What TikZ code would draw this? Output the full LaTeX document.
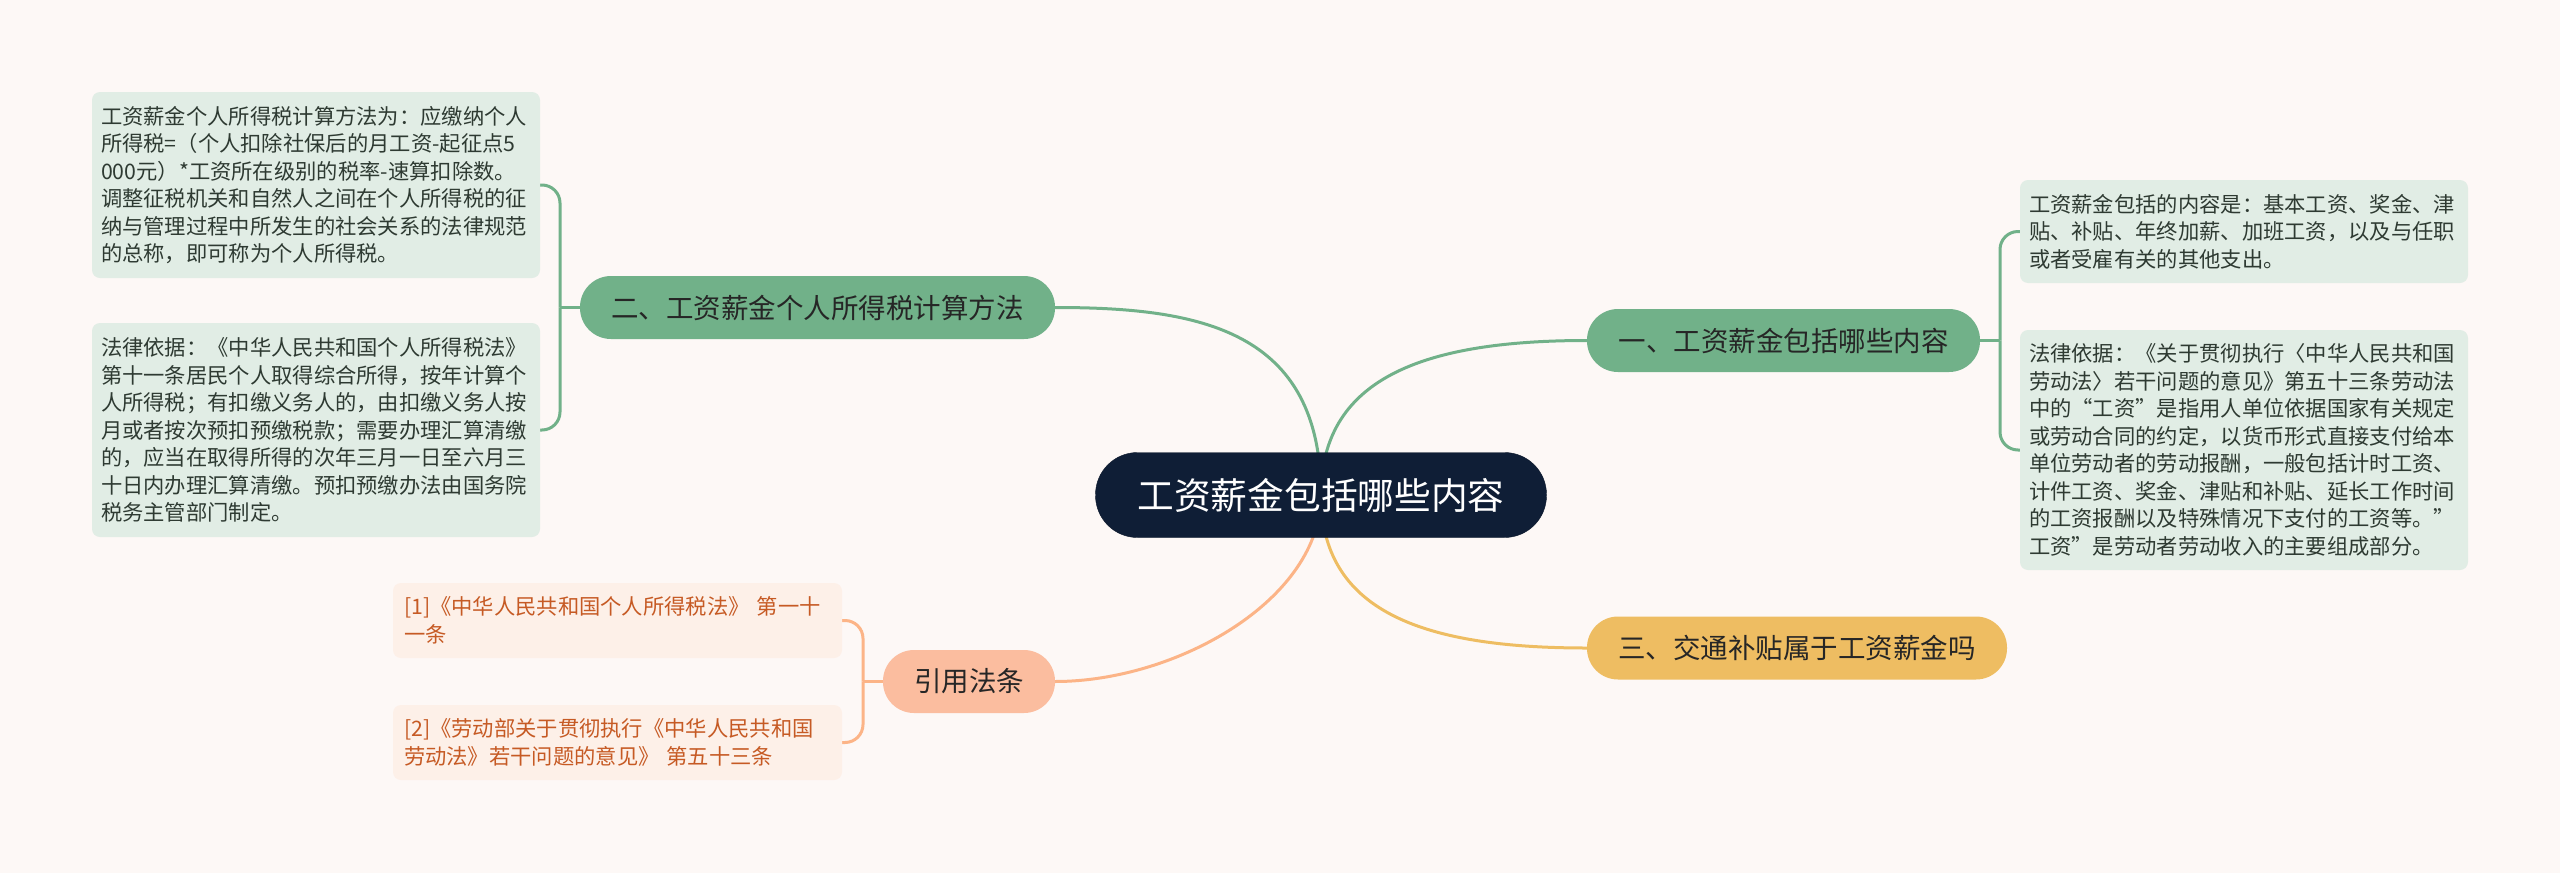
\documentclass[tikz,border=0pt]{standalone}
\usepackage{fontspec}
\setmainfont{Noto Sans CJK SC}
\usepackage{tikz}
\usetikzlibrary{calc}
\usepackage{xcolor}

\definecolor{fundo}{HTML}{FDF8F6}
\definecolor{verde}{HTML}{71B189}
\definecolor{verdeclaro}{HTML}{E1EDE5}
\definecolor{textoverde}{HTML}{2E3A32}
\definecolor{marinho}{HTML}{0F1E36}
\definecolor{amarelo}{HTML}{EEBD62}
\definecolor{pessego}{HTML}{FBBD9F}
\definecolor{pessegoclaro}{HTML}{FDF0E8}
\definecolor{textolaranja}{HTML}{C65A24}

\pgfdeclarelayer{fundo}
\pgfdeclarelayer{ligacoes}
\pgfsetlayers{fundo,ligacoes,main}

\tikzset{
    raiz/.style={fill=marinho, draw=marinho!80!black, text=white, rounded corners=42pt,
        minimum width=451pt, minimum height=85pt, inner sep=0pt,
        font=\fontsize{36.7}{40}\selectfont},
    ramo/.style={fill=#1, text=black!85, rounded corners=31pt, minimum height=63pt,
        inner sep=0pt, font=\fontsize{27.5}{30}\selectfont},
    folha/.style={fill=verdeclaro, text=textoverde, rounded corners=8pt, align=left,
        inner xsep=9pt, inner ysep=0pt, text width=430pt,
        font=\fontsize{21.3}{27.5}\selectfont},
    citacao/.style={fill=pessegoclaro, text=textolaranja, rounded corners=8pt, align=left,
        inner xsep=11pt, inner ysep=0pt, text width=427pt, minimum height=75pt,
        font=\fontsize{21.3}{27.5}\selectfont},
    ligacao/.style={draw=#1, line width=3pt},
    chave/.style={draw=#1, line width=3pt, rounded corners=18pt}
}

\begin{document}
\begin{tikzpicture}[x=1pt, y=-1pt]
    \useasboundingbox (0,0) rectangle (2560,873);
    \begin{pgfonlayer}{fundo}
        \fill[fundo] (0,0) rectangle (2560,873);
    \end{pgfonlayer}

    % centro
    \node[raiz] (c) at (1321,495) {工资薪金包括哪些内容};

    % ramos
    \node[ramo=verde, minimum width=475pt] (b2) at (817.5,307.5) {二、工资薪金个人所得税计算方法};
    \node[ramo=verde, minimum width=393pt] (b1) at (1783.5,340.5) {一、工资薪金包括哪些内容};
    \node[ramo=amarelo, minimum width=420pt] (b3) at (1797,648) {三、交通补贴属于工资薪金吗};
    \node[ramo=pessego, minimum width=172pt] (bref) at (969,681.5) {引用法条};

    % folhas da esquerda
    \node[folha, minimum height=186pt] (fa) at (316,185) {工资薪金个人所得税计算方法为：应缴纳个人\\
        所得税=（个人扣除社保后的月工资-起征点5\\
        000元）*工资所在级别的税率-速算扣除数。\\
        调整征税机关和自然人之间在个人所得税的征\\
        纳与管理过程中所发生的社会关系的法律规范\\
        的总称，即可称为个人所得税。};
    \node[folha, minimum height=214pt] (fb) at (316,430) {法律依据：《中华人民共和国个人所得税法》\\
        第十一条居民个人取得综合所得，按年计算个\\
        人所得税；有扣缴义务人的，由扣缴义务人按\\
        月或者按次预扣预缴税款；需要办理汇算清缴\\
        的，应当在取得所得的次年三月一日至六月三\\
        十日内办理汇算清缴。预扣预缴办法由国务院\\
        税务主管部门制定。};

    % citacoes
    \node[citacao] (r1) at (617.5,620.5) {[1]《中华人民共和国个人所得税法》 第一十\\
        一条};
    \node[citacao] (r2) at (617.5,742.5) {[2]《劳动部关于贯彻执行《中华人民共和国\\
        劳动法》若干问题的意见》 第五十三条};

    % folhas da direita
    \node[folha, minimum height=103pt] (fc) at (2244,231.5) {工资薪金包括的内容是：基本工资、奖金、津\\
        贴、补贴、年终加薪、加班工资，以及与任职\\
        或者受雇有关的其他支出。};
    \node[folha, minimum height=240pt] (fd) at (2244,450) {法律依据：《关于贯彻执行〈中华人民共和国\\
        劳动法〉若干问题的意见》第五十三条劳动法\\
        中的“工资”是指用人单位依据国家有关规定\\
        或劳动合同的约定，以货币形式直接支付给本\\
        单位劳动者的劳动报酬，一般包括计时工资、\\
        计件工资、奖金、津贴和补贴、延长工作时间\\
        的工资报酬以及特殊情况下支付的工资等。”\\
        工资”是劳动者劳动收入的主要组成部分。};

    \coordinate (j2) at (560,307.5);
    \coordinate (jr) at (863,681.5);
    \coordinate (j1) at (2000,340.5);

    \begin{pgfonlayer}{ligacoes}
        % centro -> ramos
        \draw[ligacao=verde] (c.center) .. controls +(0,-165) and +(145,0) .. (b2.east);
        \draw[ligacao=verde] (c.center) .. controls +(0,-115) and +(-167,0) .. (b1.west);
        \draw[ligacao=amarelo] (c.center) .. controls +(0,115) and +(-167,0) .. (b3.west);
        \draw[ligacao=pessego!85!orange] (c.center) .. controls +(0,105) and +(121,0) .. (bref.east);

        % ramos -> folhas
        \draw[ligacao=verde] (b2.west) -- (j2);
        \draw[chave=verde] (j2) |- (fa.east);
        \draw[chave=verde] (j2) |- (fb.east);

        \draw[ligacao=pessego!85!orange] (bref.west) -- (jr);
        \draw[chave=pessego!85!orange] (jr) |- (r1.east);
        \draw[chave=pessego!85!orange] (jr) |- (r2.east);

        \draw[ligacao=verde] (b1.east) -- (j1);
        \draw[chave=verde] (j1) |- (fc.west);
        \draw[chave=verde] (j1) |- (fd.west);
    \end{pgfonlayer}
\end{tikzpicture}
\end{document}
